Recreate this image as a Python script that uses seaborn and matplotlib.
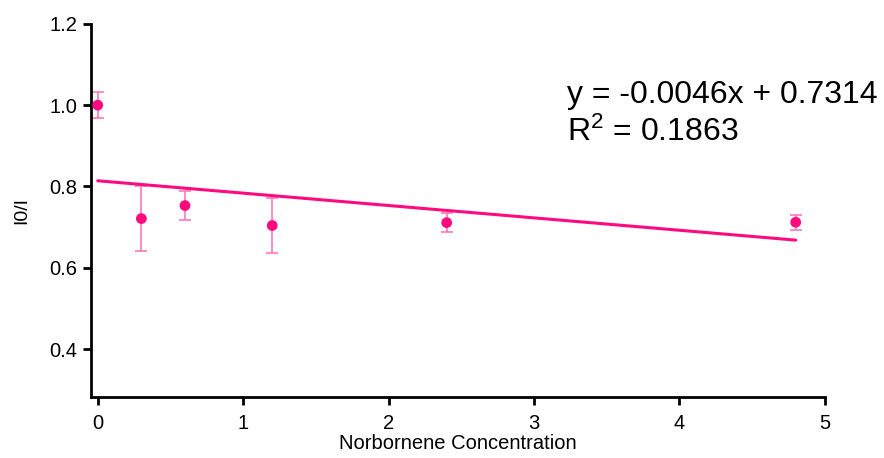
import numpy as np
import pandas as pd
import seaborn as sns
import matplotlib.pyplot as plt

# Data
conc = [0.0, 0.3, 0.6, 1.2, 2.4, 4.8]
ratio = [1.000, 0.721, 0.753, 0.704, 0.711, 0.712]
ratio_err = [0.032, 0.079, 0.035, 0.067, 0.023, 0.019]

# Plotted trend line end points
fit_x = [0.0, 4.8]
fit_y = [0.814, 0.668]

PINK = "#FF0A7F"
PINK_LIGHT = "#FF6DB3"

sns.set_theme(style="ticks")
plt.rcParams['font.family'] = ['Liberation Sans', 'DejaVu Sans']
plt.rcParams['mathtext.default'] = 'regular'

df = pd.DataFrame({'conc': conc, 'ratio': ratio, 'err': ratio_err})
fit_df = pd.DataFrame({'x': fit_x, 'y': fit_y})

fig = plt.figure(figsize=(8.84, 4.58), dpi=100, facecolor='white')
ax = fig.add_axes([0.103, 0.133, 0.83, 0.815])

ax.errorbar(df['conc'], df['ratio'], yerr=df['err'], fmt='none',
            ecolor=PINK_LIGHT, elinewidth=1.1, capsize=4, capthick=1.1, zorder=2)
sns.lineplot(data=fit_df, x='x', y='y', color=PINK, linewidth=2.2, ax=ax, zorder=3)
sns.scatterplot(data=df, x='conc', y='ratio', color=PINK, s=60, edgecolor='none',
                ax=ax, zorder=4)

ax.set_xlim(-0.046, 5.0)
ax.set_ylim(0.282, 1.2)
ax.set_xticks([0, 1, 2, 3, 4, 5])
ax.set_yticks([0.4, 0.6, 0.8, 1.0, 1.2])
ax.set_yticklabels(['0.4', '0.6', '0.8', '1.0', '1.2'])

for side in ['top', 'right']:
    ax.spines[side].set_visible(False)
for side in ['left', 'bottom']:
    ax.spines[side].set_linewidth(2)
    ax.spines[side].set_color('black')
ax.tick_params(axis='both', direction='out', length=6, width=2,
               labelsize=14.5, colors='black')
ax.tick_params(axis='x', pad=6)
ax.tick_params(axis='y', pad=4)

ax.set_xlabel('Norbornene Concentration', fontsize=14.5, labelpad=1, color='black')
ax.set_ylabel('I0/I', fontsize=14, color='black')
ax.yaxis.set_label_coords(-0.083, 0.5)

ax.text(3.23, 1.025, 'y = -0.0046x + 0.7314', fontsize=23, va='center', ha='left', color='black')
ax.text(3.23, 0.933, 'R$^2$ = 0.1863', fontsize=23, va='center', ha='left', color='black')

plt.savefig('out.png', dpi=100)
